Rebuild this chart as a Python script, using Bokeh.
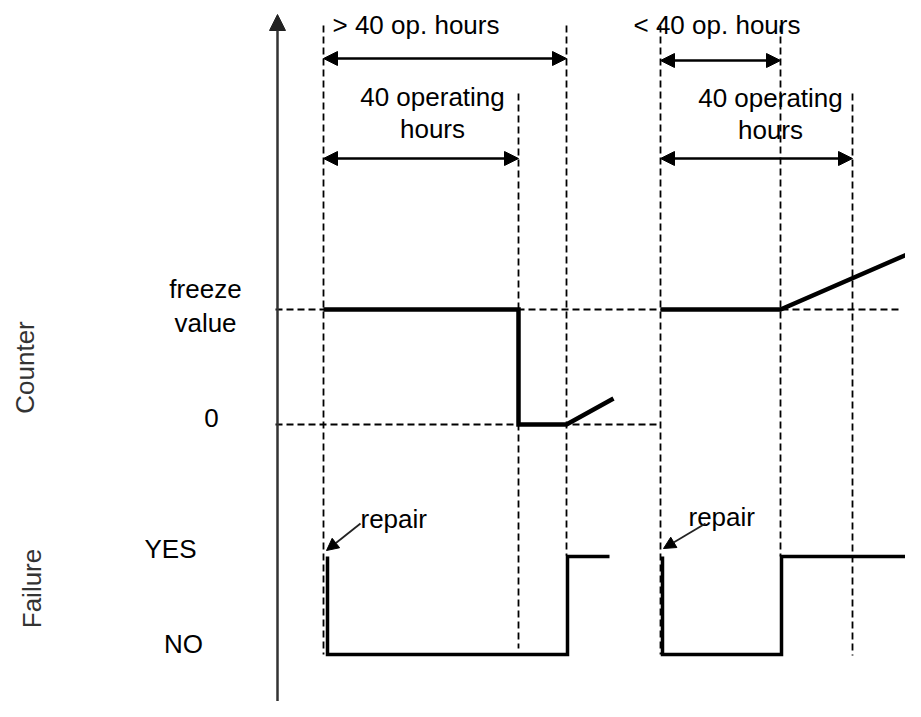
import math
from bokeh.plotting import figure
from bokeh.models import Range1d, Arrow, NormalHead
from bokeh.core.properties import value
from bokeh.embed import file_html
from bokeh.resources import INLINE

# ---- diagram data (positions in diagram units) ----
# vertical dashed time markers
vline_x = [323, 518, 566, 660, 780, 852]
vline_top = [25, 93, 25, 25, 25, 93]
vline_bottom = [654, 648, 555, 654, 556, 655]

# horizontal dashed levels: freeze value, 0
hline_y = [309, 424]
hline_x0 = [275, 275]
hline_x1 = [900, 660]

# counter curve, two episodes
counter1_x = [323, 518, 518, 566, 613]
counter1_y = [309, 309, 424, 424, 398]
counter2_x = [660, 780, 925]
counter2_y = [309, 309, 246]

# failure curve (YES=556, NO=654)
failure1_x = [327, 327, 567, 567, 609]
failure1_y = [556, 654, 654, 556, 556]
failure2_x = [662, 662, 781, 781, 917]
failure2_y = [556, 654, 654, 556, 556]

# double arrows for durations
span_x0 = [323, 323, 660, 660]
span_x1 = [566, 518, 780, 852]
span_y = [58, 158, 60, 158]

# repair pointers
repair_x0 = [360, 705]
repair_y0 = [523, 523]
repair_x1 = [326, 663]
repair_y1 = [550, 548]

# text labels
center_text = ["40 operating", "hours", "40 operating", "hours",
               "freeze", "value", "0", "YES", "NO"]
center_tx = [432, 432, 770, 770, 205, 205, 211, 170, 183]
center_ty = [96, 128, 97, 129, 288, 322, 417, 548, 643]

left_text = ["> 40 op. hours", "< 40 op. hours", "repair", "repair"]
left_tx = [332, 633, 360, 688]
left_ty = [24, 24, 518, 516]

side_text = ["Counter", "Failure"]
side_tx = [24, 31]
side_ty = [367, 588]

# axis line
axis_x = 277
axis_y0, axis_y1 = 720, 14

FONT = value("Liberation Sans")
FS = "26px"

p = figure(width=905, height=701, output_backend="svg", toolbar_location=None,
           x_range=Range1d(0, 905), y_range=Range1d(701, 0), min_border=0)
p.axis.visible = False
p.grid.visible = False
p.outline_line_color = None
p.background_fill_color = "white"
p.border_fill_color = "white"

# dashed guides
p.segment(x0=vline_x, y0=vline_top, x1=vline_x, y1=vline_bottom,
          line_color="black", line_width=1.8, line_dash="7 4")
p.segment(x0=hline_x0, y0=hline_y, x1=hline_x1, y1=hline_y,
          line_color="black", line_width=1.8, line_dash="7 4")

# vertical axis with arrow
p.add_layout(Arrow(end=NormalHead(size=16, fill_color="#222", line_color="#222"),
                   x_start=axis_x, y_start=axis_y0, x_end=axis_x, y_end=axis_y1,
                   line_color="#333", line_width=2.5))

# counter
p.line(counter1_x, counter1_y, line_color="black", line_width=4.5, line_join="miter")
p.line(counter2_x, counter2_y, line_color="black", line_width=4.5, line_join="miter")

# failure
p.line(failure1_x, failure1_y, line_color="black", line_width=3.5, line_join="miter")
p.line(failure2_x, failure2_y, line_color="black", line_width=3.5, line_join="miter")

# duration arrows
for x0, x1, y in zip(span_x0, span_x1, span_y):
    p.add_layout(Arrow(start=NormalHead(size=14, fill_color="black", line_color="black"),
                       end=NormalHead(size=14, fill_color="black", line_color="black"),
                       x_start=x0, y_start=y, x_end=x1, y_end=y,
                       line_color="black", line_width=2.5))

# repair pointers
for x0, y0, x1, y1 in zip(repair_x0, repair_y0, repair_x1, repair_y1):
    p.add_layout(Arrow(end=NormalHead(size=12, fill_color="black", line_color="black"),
                       x_start=x0, y_start=y0, x_end=x1, y_end=y1,
                       line_color="#222", line_width=1.8))

# texts
p.text(x=center_tx, y=center_ty, text=center_text, text_font=FONT, text_font_size=FS,
       text_align="center", text_baseline="middle", text_color="black")
p.text(x=left_tx, y=left_ty, text=left_text, text_font=FONT, text_font_size=FS,
       text_align="left", text_baseline="middle", text_color="black")
p.text(x=side_tx, y=side_ty, text=side_text, text_font=FONT, text_font_size=FS,
       text_align="center", text_baseline="middle", text_color="#333",
       angle=math.pi / 2)

open("out.html", "w").write(file_html(p, INLINE))
